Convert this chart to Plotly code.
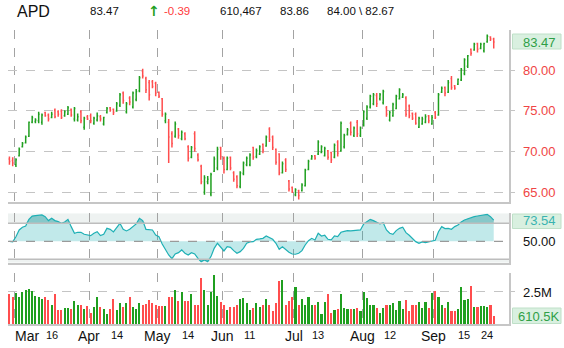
import pandas as pd
import plotly.graph_objects as go

# ---------------------------------------------------------------- data
symbol = "APD"
holidays = ["2010-04-02", "2010-05-31", "2010-07-05", "2010-09-06"]
dates = [d for d in pd.bdate_range("2010-02-25", "2010-09-28")
         if d.strftime("%Y-%m-%d") not in holidays]

opens = [69.1, 68.9, 68.4, 69.5, 70.6, 71.1, 71.9, 73.6, 73.7, 73.8,
         73.6, 74.8, 74.5, 74.2, 75.1, 74.9, 75.0, 74.4, 74.6, 75.2,
         74.0, 73.9, 74.9, 73.0, 74.3, 74.4, 73.5, 73.9, 74.3, 73.4,
         74.8, 75.4, 75.2, 75.0, 75.7, 77.2, 74.9, 76.6, 75.5, 76.4,
         77.5, 79.9, 79.0, 78.5, 78.6, 78.4, 77.3, 76.5, 73.8, 73.6,
         72.2, 71.9, 72.8, 71.6, 72.2, 70.6, 69.3, 72.2, 69.6, 68.2,
         65.0, 66.3, 64.8, 67.6, 68.0, 70.5, 69.2, 67.8, 69.3, 67.4,
         66.9, 65.7, 67.3, 68.4, 68.4, 70.5, 69.4, 69.7, 70.9, 70.7,
         72.8, 71.8, 70.3, 69.7, 67.4, 69.0, 66.4, 65.6, 64.7, 65.2,
         65.2, 65.8, 67.8, 69.1, 69.5, 69.7, 69.9, 69.5, 70.1, 69.9,
         69.3, 71.2, 70.1, 70.6, 72.1, 73.5, 72.0, 73.6, 72.0, 73.3,
         74.1, 75.5, 75.9, 76.9, 76.5, 76.0, 75.4, 73.9, 74.4, 75.3,
         76.5, 76.7, 76.6, 75.6, 74.7, 74.6, 73.0, 73.4, 73.6, 74.4,
         73.4, 74.8, 74.5, 77.3, 77.9, 77.3, 79.0, 78.1, 78.3, 78.8,
         79.6, 80.5, 82.6, 82.5, 83.3, 82.7, 82.4, 83.5, 84.1, 83.86]
highs = [69.4, 69.3, 69.2, 70.5, 71.2, 72.0, 73.7, 74.4, 74.1, 74.9,
         74.7, 74.9, 74.7, 74.9, 75.3, 75.1, 75.2, 75.1, 75.6, 75.3,
         75.5, 74.7, 75.1, 74.3, 74.5, 74.7, 74.3, 74.8, 74.5, 74.3,
         75.5, 75.5, 75.3, 76.1, 77.2, 77.4, 76.1, 76.8, 77.4, 77.7,
         79.3, 80.2, 79.2, 78.8, 78.8, 78.6, 77.4, 76.6, 74.8, 74.0,
         72.5, 73.7, 72.9, 72.6, 72.4, 70.8, 70.7, 72.5, 69.8, 68.4,
         67.1, 67.0, 67.4, 69.4, 70.6, 70.6, 69.4, 69.4, 69.4, 67.6,
         67.1, 67.6, 68.8, 69.4, 69.8, 70.6, 70.4, 70.8, 71.0, 72.0,
         73.0, 72.0, 70.4, 69.8, 68.8, 69.2, 66.5, 65.7, 65.5, 65.3,
         66.1, 67.9, 69.0, 69.6, 69.6, 71.4, 70.8, 70.6, 70.2, 70.0,
         71.0, 71.4, 73.7, 72.2, 72.9, 73.7, 73.1, 73.9, 73.1, 75.1,
         75.7, 77.0, 77.2, 77.2, 77.2, 77.6, 75.6, 75.0, 76.0, 77.0,
         77.8, 77.2, 76.8, 75.8, 74.8, 74.8, 74.3, 74.3, 74.6, 74.5,
         74.5, 75.0, 77.2, 78.0, 78.0, 78.8, 79.3, 78.2, 79.0, 80.3,
         81.5, 81.9, 82.7, 83.4, 83.4, 83.4, 83.4, 84.4, 84.2, 84.00]
lows = [68.4, 68.2, 68.1, 69.4, 70.5, 71.0, 71.8, 73.5, 73.5, 73.5,
        73.3, 74.3, 73.7, 74.1, 74.1, 74.3, 74.0, 74.3, 74.5, 74.3,
        73.7, 73.7, 73.5, 72.7, 73.9, 73.5, 73.3, 73.7, 73.7, 73.2,
        74.7, 74.9, 74.5, 74.9, 75.5, 75.9, 74.7, 75.7, 75.3, 76.2,
        77.3, 79.0, 77.2, 76.3, 77.8, 76.8, 76.6, 74.3, 73.5, 68.6,
        70.5, 71.7, 71.6, 71.4, 71.4, 68.8, 69.2, 70.0, 68.8, 66.0,
        64.7, 66.0, 64.5, 67.5, 67.7, 69.0, 67.3, 67.7, 67.7, 66.3,
        65.5, 65.5, 67.1, 68.2, 68.2, 69.0, 69.2, 69.6, 69.8, 70.6,
        71.2, 70.2, 68.4, 67.1, 67.3, 67.5, 65.1, 64.9, 64.5, 64.1,
        65.1, 65.7, 67.7, 69.0, 69.0, 69.6, 69.8, 69.4, 69.0, 68.6,
        69.2, 69.4, 70.0, 70.4, 72.0, 72.0, 71.8, 71.8, 71.8, 73.1,
        73.9, 75.3, 75.7, 75.5, 76.3, 75.8, 74.3, 73.7, 74.3, 75.2,
        76.4, 76.6, 74.3, 74.1, 73.9, 73.3, 72.9, 73.3, 73.5, 73.5,
        73.3, 74.0, 74.4, 77.2, 76.8, 77.2, 77.6, 77.6, 78.2, 78.7,
        79.4, 80.3, 81.8, 82.4, 82.2, 82.6, 82.2, 83.4, 83.6, 82.67]
closes = [68.8, 68.6, 69.0, 70.3, 71.0, 71.8, 73.6, 74.2, 73.9, 74.6,
          74.5, 74.4, 74.0, 74.6, 74.3, 74.6, 74.2, 74.9, 75.4, 74.5,
          75.3, 74.3, 73.8, 74.1, 74.0, 73.8, 74.1, 74.4, 74.0, 74.2,
          75.3, 75.1, 74.8, 75.9, 77.0, 76.3, 75.9, 76.1, 77.2, 77.4,
          79.1, 79.3, 77.6, 77.0, 78.0, 77.2, 76.8, 74.6, 74.6, 71.8,
          71.0, 73.4, 72.0, 72.4, 71.6, 69.2, 70.5, 70.4, 69.0, 66.3,
          66.8, 66.6, 67.2, 69.1, 70.3, 69.4, 67.8, 69.2, 68.0, 66.6,
          65.8, 67.4, 68.6, 69.2, 69.6, 69.3, 70.1, 70.6, 70.2, 71.8,
          71.5, 70.5, 68.7, 67.4, 68.5, 67.8, 65.4, 65.1, 65.3, 64.6,
          65.9, 67.7, 68.8, 69.4, 69.2, 71.2, 70.6, 70.4, 69.3, 69.0,
          70.8, 69.8, 73.5, 72.0, 72.7, 72.4, 72.9, 72.2, 72.9, 74.9,
          75.5, 76.8, 77.0, 75.9, 77.0, 77.4, 74.6, 74.8, 75.8, 76.8,
          77.6, 77.0, 74.6, 74.4, 74.1, 73.5, 74.1, 74.0, 74.3, 73.8,
          74.2, 74.2, 77.0, 77.8, 77.2, 78.5, 77.9, 77.8, 78.9, 80.1,
          81.3, 81.8, 82.1, 83.2, 82.6, 83.2, 83.3, 84.2, 83.86, 83.47]
volumes = [2350000, 2060000, 2400000, 2060000, 2500000, 2630000, 2730000, 2530000, 2160000, 2060000,
           1910000, 2110000, 1860000, 1440000, 2350000, 1060000, 1060000, 1240000, 1240000, 1110000,
           1800000, 1440000, 1440000, 1110000, 1370000, 800000, 1340000, 2060000, 1290000, 1110000,
           770000, 1110000, 1930000, 1060000, 1620000, 1290000, 1650000, 2060000, 1290000, 1110000,
           1620000, 1440000, 1550000, 1850000, 1600000, 1440000, 1370000, 1370000, 1370000, 2060000,
           2110000, 2630000, 1800000, 2500000, 1800000, 1800000, 2350000, 1440000, 1440000, 3560000,
           2600000, 1500000, 2500000, 3810000, 2200000, 1700000, 1440000, 1100000, 1300000, 1300000,
           1500000, 1900000, 2000000, 1650000, 1100000, 1200000, 1600000, 1300000, 1500000, 1900000,
           1500000, 1000000, 1600000, 3300000, 3430000, 1490000, 1750000, 2060000, 2840000, 1490000,
           1930000, 1490000, 2060000, 1490000, 1440000, 1680000, 720000, 1680000, 2350000, 800000,
           1060000, 1160000, 2350000, 1240000, 1160000, 1110000, 1110000, 1240000, 980000, 2450000,
           2010000, 1490000, 1490000, 1240000, 850000, 1240000, 1440000, 1440000, 1620000, 1060000,
           1750000, 1160000, 1880000, 980000, 1490000, 1490000, 1680000, 1240000, 1680000, 1240000,
           2400000, 2530000, 2060000, 1490000, 1240000, 1680000, 980000, 980000, 1160000, 2840000,
           1830000, 1930000, 2910000, 1290000, 1290000, 1370000, 1370000, 1290000, 1490000, 610467]
rsi = [50.0, 49.5, 55.0, 62.6, 65.6, 67.0, 74.4, 78.0, 78.5, 79.0,
       79.3, 77.4, 73.0, 75.5, 73.0, 71.8, 70.0, 71.5, 74.4, 66.3,
       58.9, 60.0, 60.0, 57.8, 57.4, 56.3, 58.9, 60.7, 56.3, 57.8,
       64.4, 63.3, 60.4, 65.6, 70.0, 63.3, 61.5, 63.3, 66.3, 69.3,
       75.5, 73.0, 63.3, 63.3, 62.6, 57.0, 55.2, 47.0, 40.4, 34.8,
       30.7, 35.9, 37.4, 40.4, 36.7, 34.8, 37.4, 35.9, 31.1, 27.4,
       29.3, 27.4, 33.0, 42.2, 47.8, 44.0, 39.3, 44.0, 43.3, 39.6,
       36.7, 38.5, 42.2, 47.8, 49.3, 49.6, 52.2, 52.6, 53.3, 55.9,
       54.4, 52.2, 47.8, 41.1, 44.0, 40.4, 37.8, 35.9, 35.6, 36.7,
       39.6, 45.9, 50.7, 53.3, 51.5, 58.9, 55.9, 56.7, 52.2, 51.5,
       55.9, 55.2, 60.0, 61.1, 61.9, 61.5, 61.9, 61.9, 62.6, 69.3,
       71.5, 74.4, 73.0, 71.5, 69.3, 70.7, 62.6, 58.9, 57.8, 61.9,
       64.4, 65.6, 59.6, 56.7, 53.0, 49.6, 47.8, 49.3, 48.5, 49.3,
       50.7, 51.1, 60.7, 66.3, 64.1, 64.4, 63.3, 66.3, 68.1, 71.5,
       73.7, 75.2, 75.9, 77.4, 78.1, 78.9, 78.9, 80.0, 77.4, 73.54]

day_marks = ["2010-03-16", "2010-04-14", "2010-05-14", "2010-06-11",
             "2010-07-13", "2010-08-12", "2010-09-15", "2010-09-24"]

# ---------------------------------------------------------------- styling
GREEN = "#1f9f1f"
RED = "#ff4d4d"
TEAL = "#1fb0b5"
GRID_V = "#a3a3a3"
GRID_H = "#c4c4c4"
AXIS = "#c6c6c6"
FONT = "Liberation Sans, Arial, sans-serif"

W, H = 564, 348
ML, MR, MT, MB = 8, 55, 30, 24
PW, PH = W - ML - MR, H - MT - MB


def fx(px):
    return (px - ML) / PW


def fy(py):
    return (H - MB - py) / PH


n = len(dates)
idx = list(range(n))
x_range = [-0.44, 153.7]

month_pos, month_txt = [], []
for i in range(1, n):
    if dates[i].month != dates[i - 1].month:
        month_pos.append(i - 0.5)
        month_txt.append(dates[i].strftime("%b"))
date_str = [d.strftime("%Y-%m-%d") for d in dates]
day_pos = [date_str.index(d) for d in day_marks]
day_txt = [str(int(d[-2:])) for d in day_marks]

up = [c >= o for o, c in zip(opens, closes)]
vol_colors = [GREEN if u else RED for u in up]

fig = go.Figure()

# price bars
fig.add_trace(go.Ohlc(
    x=idx, open=opens, high=highs, low=lows, close=closes,
    increasing=dict(line=dict(color=GREEN, width=1.5)),
    decreasing=dict(line=dict(color=RED, width=1.5)),
    tickwidth=0.3, xaxis="x", yaxis="y", hoverinfo="skip", showlegend=False))


# RSI area around the 50 line, with heavier shading beyond 70 / 30
def band(base, vals, color):
    fig.add_trace(go.Scatter(x=idx, y=[base] * n, mode="lines", line=dict(width=0),
                             xaxis="x2", yaxis="y2", hoverinfo="skip", showlegend=False))
    fig.add_trace(go.Scatter(x=idx, y=vals, mode="lines", line=dict(width=0),
                             fill="tonexty", fillcolor=color,
                             xaxis="x2", yaxis="y2", hoverinfo="skip", showlegend=False))


band(50, rsi, "rgba(31,176,181,0.28)")
band(70, [max(v, 70) for v in rsi], "rgba(31,150,150,0.30)")
band(30, [min(v, 30) for v in rsi], "rgba(31,150,150,0.30)")
fig.add_trace(go.Scatter(x=idx, y=rsi, mode="lines", line=dict(color=TEAL, width=1.2),
                         xaxis="x2", yaxis="y2", hoverinfo="skip", showlegend=False))

# volume
fig.add_trace(go.Bar(x=idx, y=volumes, marker=dict(color=vol_colors, line=dict(width=0)),
                     width=0.64, xaxis="x3", yaxis="y3", hoverinfo="skip", showlegend=False))

xcommon = dict(range=x_range, tickmode="array", tickvals=month_pos, showticklabels=False,
               showgrid=True, gridcolor=GRID_V, griddash="dash", gridwidth=1,
               zeroline=False, showline=True, linecolor=AXIS, linewidth=1.5, ticks="",
               fixedrange=True)

price_dom = [fy(202.3), 1.0]
rsi_dom = [fy(262.7), fy(213.3)]
vol_dom = [0.0, fy(273.3)]

fig.update_layout(
    width=W, height=H,
    margin=dict(l=ML, r=MR, t=MT, b=MB),
    paper_bgcolor="white", plot_bgcolor="rgba(0,0,0,0)",
    bargap=0, showlegend=False,
    font=dict(family=FONT, color="#111111"),
    xaxis=dict(domain=[0, 1], anchor="y", rangeslider=dict(visible=False), **xcommon),
    xaxis2=dict(domain=[0, 1], anchor="y2", **xcommon),
    xaxis3=dict(domain=[0, 1], anchor="y3", **xcommon),
    yaxis=dict(domain=price_dom, anchor="x", side="right", range=[63.77, 84.96],
               tickmode="array", tickvals=[65, 70, 75, 80], showticklabels=False,
               showgrid=True, gridcolor=GRID_H, griddash="dash", zeroline=False,
               showline=True, linecolor=AXIS, linewidth=1.5,
               ticks="outside", ticklen=4, tickcolor=GRID_H, fixedrange=True),
    yaxis2=dict(domain=rsi_dom, anchor="x2", side="right", range=[26.22, 81.11],
                showticklabels=False, showgrid=False, zeroline=False,
                showline=True, linecolor=AXIS, linewidth=1.5, fixedrange=True),
    yaxis3=dict(domain=vol_dom, anchor="x3", side="right", range=[0, 3.96e6],
                tickmode="array", tickvals=[2.5e6], showticklabels=False,
                showgrid=True, gridcolor=GRID_H, griddash="dash", zeroline=False,
                showline=True, linecolor=AXIS, linewidth=1.5,
                ticks="outside", ticklen=4, tickcolor=GRID_H, fixedrange=True),
)

shapes = [
    # overbought / oversold zones
    dict(type="rect", xref="x2 domain", yref="y2", x0=0, x1=1, y0=70, y1=81.11,
         fillcolor="#eef2f1", line=dict(width=0), layer="below"),
    dict(type="rect", xref="x2 domain", yref="y2", x0=0, x1=1, y0=26.22, y1=30,
         fillcolor="#eef2f1", line=dict(width=0), layer="below"),
    dict(type="line", xref="x2 domain", yref="y2", x0=0, x1=1, y0=70, y1=70,
         line=dict(color="#bdbdbd", width=1.5), layer="above"),
    dict(type="line", xref="x2 domain", yref="y2", x0=0, x1=1, y0=30, y1=30,
         line=dict(color="#bdbdbd", width=1.5), layer="above"),
    dict(type="line", xref="x2 domain", yref="y2", x0=0, x1=1, y0=50, y1=50,
         line=dict(color="#9a9a9a", width=1.2, dash="dash"), layer="above"),
]

# current-value boxes on the right
for top, bot in [(34, 49), (214, 228.5), (308, 323.5)]:
    shapes.append(dict(type="rect", xref="paper", yref="paper",
                       x0=fx(512.5), x1=fx(561), y0=fy(bot), y1=fy(top),
                       fillcolor="#d9f0e0", line=dict(color="#bfe0c8", width=1)))
fig.update_layout(shapes=shapes)

ann = []


def label(px, py, text, size, color, anchor="left", xref="paper", xval=None, family=FONT):
    ann.append(dict(x=fx(px) if xval is None else xval, y=fy(py), xref=xref, yref="paper",
                    text=text, showarrow=False, xanchor=anchor, yanchor="middle",
                    font=dict(size=size, color=color, family=family)))


# header
label(15, 11, symbol, 16, "#111111")
label(88, 11, f"{closes[-1]:.2f}", 11.5, "#111111")
label(145.5, 11, "<b>\u2191</b>", 14, GREEN, family="DejaVu Sans")
label(162, 11, f"{closes[-1] - closes[-2]:.2f}", 11.5, "#ff3b3b")
label(218, 11, f"{volumes[-1]:,}", 11.5, "#111111")
label(278, 11, f"{opens[-1]:.2f}", 11.5, "#111111")
label(325, 11, f"{highs[-1]:.2f} \\ {lows[-1]:.2f}", 11.5, "#111111")

# price scale
for v in [80, 75, 70, 65]:
    label(521, 70.3 + (80 - v) * 8.133, f"{v:.2f}", 13, "#f04545")
label(521, 70.3 + (80 - closes[-1]) * 8.133, f"{closes[-1]:.2f}", 13, "#2f9f47")
# RSI scale
label(521, 241.3 - (rsi[-1] - 50) * 0.9, f"{rsi[-1]:.2f}", 13, "#3ab3b0")
label(521, 241.3, "50.00", 13, "#111111")
# volume scale
label(521, 292, "2.5M", 13, "#111111")
label(516, 316, f"{volumes[-1] / 1000:.1f}K", 13, "#2f9f47")

# date labels
for pos, txt in zip(month_pos, month_txt):
    if pos < 5:
        label(12.5, 336, txt, 14, "#111111")
    else:
        label(0, 336, txt, 14, "#111111", anchor="center", xref="x3", xval=pos)
for pos, txt in zip(day_pos, day_txt):
    label(0, 334.5, txt, 11, "#111111", anchor="center", xref="x3", xval=pos)

fig.update_layout(annotations=ann)
fig.write_html("out.html")
